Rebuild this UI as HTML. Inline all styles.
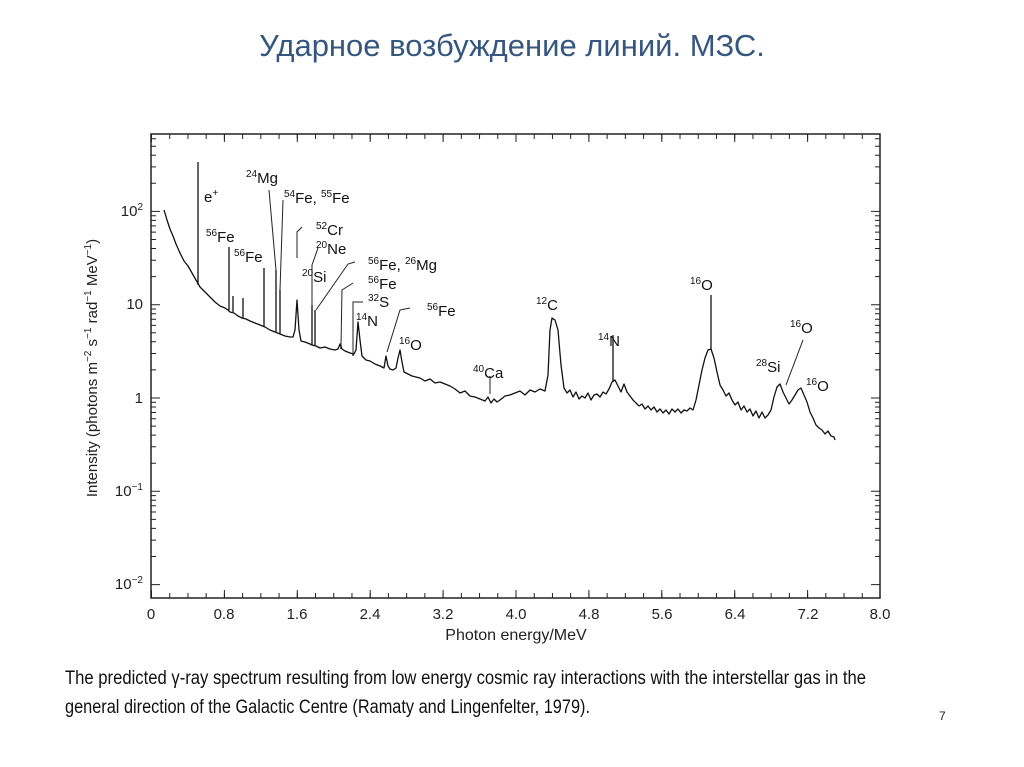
<!DOCTYPE html>
<html><head><meta charset="utf-8"><style>
html,body{margin:0;padding:0;background:#fff;}
svg{display:block;}
text{font-family:"Liberation Sans",sans-serif;}
</style></head><body>
<svg width="1024" height="767" viewBox="0 0 1024 767" xmlns="http://www.w3.org/2000/svg">
<text x="512" y="56" text-anchor="middle" font-size="31" fill="#35577f">Ударное возбуждение линий. МЗС.</text>
<rect x="151" y="134" width="729" height="464" fill="none" stroke="#222" stroke-width="1.5"/>
<g stroke="#222" fill="none">
<line x1="151" y1="595.5" x2="880" y2="595.5" stroke-width="5" stroke-dasharray="1 17.225"/>
<line x1="151" y1="136.5" x2="880" y2="136.5" stroke-width="5" stroke-dasharray="1 17.225"/>
<line x1="151" y1="594" x2="880" y2="594" stroke-width="8" stroke-dasharray="1 71.9"/>
<line x1="151" y1="138" x2="880" y2="138" stroke-width="8" stroke-dasharray="1 71.9"/>
<path stroke-width="1" d="M151 584.6h9M151 556.5h5M151 540.1h5M151 528.4h5M151 519.4h5M151 512h5M151 505.8h5M151 500.3h5M151 495.6h5
M151 491.3h9M151 463.2h5M151 446.8h5M151 435.1h5M151 426.1h5M151 418.7h5M151 412.5h5M151 407h5M151 402.3h5
M151 398h9M151 369.9h5M151 353.5h5M151 341.8h5M151 332.8h5M151 325.4h5M151 319.2h5M151 313.7h5M151 309h5
M151 304.7h9M151 276.6h5M151 260.2h5M151 248.5h5M151 239.5h5M151 232.1h5M151 225.9h5M151 220.4h5M151 215.7h5
M151 211.4h9M151 183.3h5M151 166.9h5M151 155.2h5M151 146.2h5M151 138.8h5
M880 584.6h-9M880 556.5h-5M880 540.1h-5M880 528.4h-5M880 519.4h-5M880 512h-5M880 505.8h-5M880 500.3h-5M880 495.6h-5
M880 491.3h-9M880 463.2h-5M880 446.8h-5M880 435.1h-5M880 426.1h-5M880 418.7h-5M880 412.5h-5M880 407h-5M880 402.3h-5
M880 398h-9M880 369.9h-5M880 353.5h-5M880 341.8h-5M880 332.8h-5M880 325.4h-5M880 319.2h-5M880 313.7h-5M880 309h-5
M880 304.7h-9M880 276.6h-5M880 260.2h-5M880 248.5h-5M880 239.5h-5M880 232.1h-5M880 225.9h-5M880 220.4h-5M880 215.7h-5
M880 211.4h-9M880 183.3h-5M880 166.9h-5M880 155.2h-5M880 146.2h-5M880 138.8h-5"/>
</g>
<g font-size="15" fill="#222" text-anchor="middle">
<text x="151" y="619">0</text><text x="224" y="619">0.8</text><text x="297" y="619">1.6</text><text x="370" y="619">2.4</text><text x="443" y="619">3.2</text><text x="516" y="619">4.0</text><text x="589" y="619">4.8</text><text x="662" y="619">5.6</text><text x="735" y="619">6.4</text><text x="808" y="619">7.2</text><text x="880" y="619">8.0</text>
<text x="516" y="640" font-size="16">Photon energy/MeV</text>
</g>
<g font-size="15" fill="#222" text-anchor="end">
<text x="143" y="216">10<tspan font-size="10" dy="-6">2</tspan></text>
<text x="143" y="309">10</text>
<text x="143" y="403">1</text>
<text x="143" y="496">10<tspan font-size="10" dy="-6">−1</tspan></text>
<text x="143" y="589">10<tspan font-size="10" dy="-6">−2</tspan></text>
</g>
<text transform="translate(97,368) rotate(-90)" text-anchor="middle" font-size="15" fill="#222">Intensity (photons m<tspan font-size="10" dy="-6">−2</tspan><tspan dy="6"> s</tspan><tspan font-size="10" dy="-6">−1</tspan><tspan dy="6"> rad</tspan><tspan font-size="10" dy="-6">−1</tspan><tspan dy="6"> MeV</tspan><tspan font-size="10" dy="-6">−1</tspan><tspan dy="6">)</tspan></text>
<polyline fill="none" stroke="#111" stroke-width="1.3" stroke-linejoin="round" points="164,210 167,220 170,229 173,236 176,244 180,253 184,261 188,266 192,273 196,280 200,287 205,292 210,297 215,302 220,306 225,308 228,310 230,312 234,313 238,316 242,318 246,319 250,321 255,323 260,325 265,327 270,330 275,332 280,334 285,336 290,337 293,337 295,330 297,300 299,330 301,341 305,342 310,344 312,345 316,346 320,348 325,347 330,349 335,350 338,349 340,344 342,349 345,351 350,353 354,354 356,350 358,322 360,340 362,356 366,360 370,361 375,364 380,366 384,368 386,356 388,366 390,369 393,370 396,368 398,358 400,350 402,362 404,372 408,374 412,376 416,377 420,378 425,381 430,379 435,383 440,382 445,384 450,386 455,389 460,393 465,391 470,396 475,397 480,399 485,401 488,397 491,403 494,399 497,402 500,400 505,396 510,395 515,393 520,391 525,395 530,390 535,392 540,389 545,391 548,375 550,330 552,318 555,320 558,330 561,365 564,388 567,393 570,390 573,397 576,392 579,399 582,396 585,398 588,393 591,400 594,395 597,394 600,397 603,392 606,394 609,389 612,382 615,380 618,386 621,392 624,384 627,392 630,396 633,400 636,403 639,406 642,404 645,409 648,406 651,410 654,407 657,412 660,409 663,413 666,410 669,414 672,409 675,412 678,409 681,413 684,410 687,411 690,408 693,410 696,400 699,385 702,370 705,358 708,350 711,349 714,358 717,372 720,385 723,390 726,396 729,393 732,400 735,405 738,402 741,410 744,406 747,412 750,409 753,416 756,411 759,418 762,412 765,418 768,415 771,410 774,397 777,387 780,384 783,392 786,398 789,404 792,400 795,395 798,390 801,388 804,395 807,402 810,412 813,418 816,425 819,428 822,430 825,434 828,431 831,436 834,437 835,440"/>
<g stroke="#111" stroke-width="1.3">
<line x1="198" y1="162" x2="198" y2="285"/>
<line x1="229" y1="247" x2="229" y2="310"/>
<line x1="264" y1="268" x2="264" y2="326"/>
<line x1="276" y1="270" x2="276" y2="333"/>
<line x1="280" y1="290" x2="280" y2="334"/>
<line x1="312" y1="305" x2="312" y2="345"/>
<line x1="315" y1="310" x2="315" y2="346"/>
<line x1="341" y1="345" x2="341" y2="349"/>
<line x1="353" y1="354" x2="353" y2="356"/>
<line x1="613" y1="335" x2="613" y2="382"/>
<line x1="711" y1="295" x2="711" y2="349"/>
<line x1="233" y1="296" x2="233" y2="312"/>
<line x1="243" y1="298" x2="243" y2="318"/>
</g>
<g stroke="#222" stroke-width="1" fill="none">
<line x1="269" y1="190" x2="276" y2="270"/>
<line x1="283" y1="200" x2="280" y2="290"/>
<polyline points="302,227 297,232 297,258"/>
<polyline points="318,248 312,265 312,305"/>
<polyline points="355,262 348,264 316,310"/>
<polyline points="353,283 342,290 341,345"/>
<polyline points="363,302 353,302 353,354"/>
<polyline points="410,308 400,310 387,352"/>
<line x1="490" y1="376" x2="490" y2="394"/>
<line x1="803" y1="340" x2="786" y2="385"/>
</g>
<g font-size="15" fill="#111">
<text x="204" y="202">e<tspan font-size="10" dy="-6">+</tspan></text>
<text x="246" y="183"><tspan font-size="10" dy="-6">24</tspan><tspan dy="6">Mg</tspan></text>
<text x="284" y="203"><tspan font-size="10" dy="-6">54</tspan><tspan dy="6">Fe, </tspan><tspan font-size="10" dy="-6">55</tspan><tspan dy="6">Fe</tspan></text>
<text x="206" y="242"><tspan font-size="10" dy="-6">56</tspan><tspan dy="6">Fe</tspan></text>
<text x="234" y="262"><tspan font-size="10" dy="-6">56</tspan><tspan dy="6">Fe</tspan></text>
<text x="316" y="235"><tspan font-size="10" dy="-6">52</tspan><tspan dy="6">Cr</tspan></text>
<text x="316" y="254"><tspan font-size="10" dy="-6">20</tspan><tspan dy="6">Ne</tspan></text>
<text x="302" y="282"><tspan font-size="10" dy="-6">20</tspan><tspan dy="6">Si</tspan></text>
<text x="368" y="270"><tspan font-size="10" dy="-6">56</tspan><tspan dy="6">Fe, </tspan><tspan font-size="10" dy="-6">26</tspan><tspan dy="6">Mg</tspan></text>
<text x="368" y="289"><tspan font-size="10" dy="-6">56</tspan><tspan dy="6">Fe</tspan></text>
<text x="368" y="307"><tspan font-size="10" dy="-6">32</tspan><tspan dy="6">S</tspan></text>
<text x="356" y="326"><tspan font-size="10" dy="-6">14</tspan><tspan dy="6">N</tspan></text>
<text x="427" y="316"><tspan font-size="10" dy="-6">56</tspan><tspan dy="6">Fe</tspan></text>
<text x="399" y="350"><tspan font-size="10" dy="-6">16</tspan><tspan dy="6">O</tspan></text>
<text x="473" y="378"><tspan font-size="10" dy="-6">40</tspan><tspan dy="6">Ca</tspan></text>
<text x="536" y="310"><tspan font-size="10" dy="-6">12</tspan><tspan dy="6">C</tspan></text>
<text x="598" y="346"><tspan font-size="10" dy="-6">14</tspan><tspan dy="6">N</tspan></text>
<text x="690" y="290"><tspan font-size="10" dy="-6">16</tspan><tspan dy="6">O</tspan></text>
<text x="756" y="372"><tspan font-size="10" dy="-6">28</tspan><tspan dy="6">Si</tspan></text>
<text x="790" y="333"><tspan font-size="10" dy="-6">16</tspan><tspan dy="6">O</tspan></text>
<text x="806" y="391"><tspan font-size="10" dy="-6">16</tspan><tspan dy="6">O</tspan></text>
</g>
<text x="65" y="684" font-size="19" fill="#111" textLength="801" lengthAdjust="spacingAndGlyphs">The predicted γ-ray spectrum resulting from low energy cosmic ray interactions with the interstellar gas in the</text>
<text x="65" y="713" font-size="19" fill="#111" textLength="525" lengthAdjust="spacingAndGlyphs">general direction of the Galactic Centre (Ramaty and Lingenfelter, 1979).</text>
<text x="939" y="720" font-size="12" fill="#222">7</text>
</svg>
</body></html>
